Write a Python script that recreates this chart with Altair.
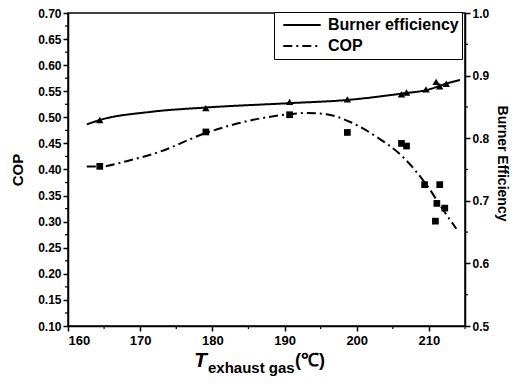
import altair as alt
import pandas as pd

# measured points
temp_eff = [164.4, 179.1, 190.7, 198.7, 206.2, 206.9, 209.6, 211.0, 211.5, 212.4]
eff_vals = [0.829, 0.848, 0.858, 0.862, 0.870, 0.873, 0.878, 0.890, 0.883, 0.887]

temp_cop = [164.4, 179.1, 190.7, 198.7, 206.2, 206.9, 209.4, 211.5, 211.1, 212.2, 210.9]
cop_vals = [0.406, 0.472, 0.505, 0.471, 0.450, 0.445, 0.371, 0.371, 0.335, 0.326, 0.301]

# fitted curves
fit_eff_t = [162.6, 164.4, 171.4, 179.1, 190.7, 198.6, 206.4, 209.7, 212.5, 214.3]
fit_eff = [0.822, 0.829, 0.842, 0.849, 0.856, 0.861, 0.8715, 0.877, 0.8875, 0.893]

fit_cop_t = [162.6, 164.4, 168.1, 172.7, 179.1, 184.3, 190.7, 193.1, 195.8, 199.1,
             202.8, 206.4, 209.7, 212.0, 213.8]
fit_cop = [0.4056, 0.4056, 0.416, 0.434, 0.470, 0.491, 0.506, 0.5085, 0.506, 0.491,
           0.462, 0.424, 0.370, 0.322, 0.2865]

series_names = ["Burner efficiency", "COP"]
x_ticks = [160, 170, 180, 190, 200, 210]
x_minor = [165, 175, 185, 195, 205, 215]
cop_ticks = [0.10, 0.15, 0.20, 0.25, 0.30, 0.35, 0.40, 0.45, 0.50, 0.55, 0.60, 0.65, 0.70]
cop_minor = [0.125, 0.175, 0.225, 0.275, 0.325, 0.375, 0.425, 0.475, 0.525, 0.575, 0.625, 0.675]
eff_ticks = [0.5, 0.6, 0.7, 0.8, 0.9, 1.0]
eff_minor = [0.55, 0.65, 0.75, 0.85, 0.95]

FONT = "Liberation Sans"

df_eff = pd.DataFrame({"t": temp_eff, "v": eff_vals})
df_cop = pd.DataFrame({"t": temp_cop, "v": cop_vals})
df_fit_eff = pd.DataFrame({"t": fit_eff_t, "v": fit_eff, "series": series_names[0]})
df_fit_cop = pd.DataFrame({"t": fit_cop_t, "v": fit_cop, "series": series_names[1]})

xscale = alt.Scale(domain=[160, 215], nice=False, zero=False)
cop_scale = alt.Scale(domain=[0.10, 0.70], nice=False, zero=False)
eff_scale = alt.Scale(domain=[0.5, 1.0], nice=False, zero=False)

x_axis = alt.Axis(values=x_ticks, title=None, format="d", labelFontWeight="bold",
                  labelFontSize=13, tickSize=5, labelPadding=3)

dash_scale = alt.Scale(domain=series_names, range=[[1, 0], [9, 4, 2, 4]])
legend = alt.Legend(title=None, orient="none", legendX=206, legendY=-1,
                    symbolType="stroke", symbolSize=1400, symbolStrokeWidth=2,
                    symbolStrokeColor="black", labelFont=FONT, labelFontSize=16,
                    labelFontWeight="bold", labelColor="black", labelLimit=300,
                    strokeColor="black", fillColor="white", padding=3, rowPadding=1,
                    clipHeight=20, symbolOffset=5, labelOffset=6)

cop_axis = alt.Axis(values=cop_ticks, format=".2f", title="COP", titleFontSize=15,
                    titlePadding=12, labelFontSize=12, labelFontWeight="bold",
                    tickSize=5, labelPadding=2)
eff_axis = alt.Axis(values=eff_ticks, format=".1f", title="Burner Efficiency",
                    orient="right", titleFontSize=14, titlePadding=6,
                    labelFontSize=12, labelFontWeight="bold", tickSize=5,
                    labelPadding=2, titleY=150)

X = alt.X("t:Q", scale=xscale, axis=x_axis)
Ycop = alt.Y("v:Q", scale=cop_scale, axis=cop_axis)
Yeff = alt.Y("v:Q", scale=eff_scale, axis=eff_axis)

cop_line = alt.Chart(df_fit_cop).mark_line(color="black", strokeWidth=2,
                                           interpolate="monotone").encode(
    x=X, y=Ycop,
    strokeDash=alt.StrokeDash("series:N", scale=dash_scale, legend=legend),
)
cop_pts = alt.Chart(df_cop).mark_point(shape="square", filled=True, color="black",
                                       size=45, opacity=1).encode(x=X, y=Ycop)
cop_minor_r = alt.Chart(pd.DataFrame({"v": cop_minor})).mark_rule(
    color="black", strokeWidth=1.2).encode(y=Ycop, x=alt.value(0), x2=alt.value(-3))
x_minor_r = alt.Chart(pd.DataFrame({"t": x_minor})).mark_rule(
    color="black", strokeWidth=1.2).encode(x=X, y=alt.value(313), y2=alt.value(316))

title_df = pd.DataFrame({"a": [0]})
t_big = alt.Chart(title_df).mark_text(text="T", font=FONT, fontSize=21, fontWeight="bold",
                                      fontStyle="italic", align="left", baseline="alphabetic",
                                      color="black").encode(x=alt.value(126), y=alt.value(354))
t_sub = alt.Chart(title_df).mark_text(text="exhaust gas", font=FONT, fontSize=15, fontWeight="bold",
                                      align="left", baseline="alphabetic",
                                      color="black").encode(x=alt.value(140), y=alt.value(360))
t_unit = alt.Chart(title_df).mark_text(text="(℃)", font=FONT, fontSize=18, fontWeight="bold",
                                       align="left", baseline="alphabetic",
                                       color="black").encode(x=alt.value(227), y=alt.value(353))

eff_line = alt.Chart(df_fit_eff).mark_line(color="black", strokeWidth=2,
                                           interpolate="monotone").encode(
    x=X, y=Yeff,
    strokeDash=alt.StrokeDash("series:N", scale=dash_scale, legend=legend),
)
eff_pts = alt.Chart(df_eff).mark_point(shape="triangle-up", filled=True, color="black",
                                       size=55, opacity=1).encode(x=X, y=Yeff)
eff_minor_r = alt.Chart(pd.DataFrame({"v": eff_minor})).mark_rule(
    color="black", strokeWidth=1.2).encode(y=Yeff, x=alt.value(397), x2=alt.value(400))

left = alt.layer(cop_line, cop_pts, cop_minor_r, x_minor_r, t_big, t_sub, t_unit)
right = alt.layer(eff_line, eff_pts, eff_minor_r)

chart = alt.layer(left, right).resolve_scale(y="independent").properties(
    width=397, height=313,
    padding={"left": 68, "top": 13, "right": 50, "bottom": 60},
    autosize=alt.AutoSizeParams(type="none"),
    background="white",
).configure_view(stroke="black", strokeWidth=1.5).configure_axis(
    labelFont=FONT, titleFont=FONT, labelColor="black", titleColor="black",
    domainColor="black", domainWidth=1.5, tickColor="black", tickWidth=1.5,
    grid=False, titleFontWeight="bold",
)

chart.save("out.html", embed_options={"renderer": "svg", "actions": False})
